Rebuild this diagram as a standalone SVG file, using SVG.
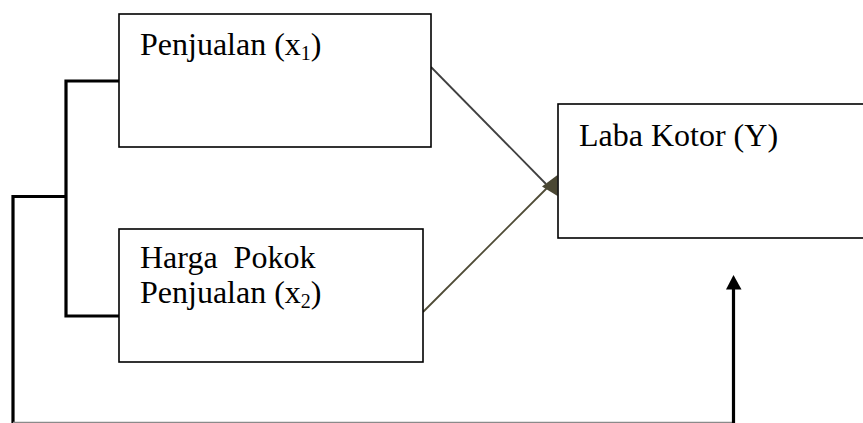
<svg xmlns="http://www.w3.org/2000/svg" width="863" height="423" viewBox="0 0 863 423">
<style>
.box{fill:#fff;stroke:#000;stroke-width:1.6}
.lbl{font-family:"Liberation Serif","Times New Roman",serif;font-size:32px;fill:#000}
.sub{font-size:20px}
.thick{fill:none;stroke:#000;stroke-width:3.2}
</style>
<rect width="863" height="423" fill="#fff"/>
<g id="connectors">
<polyline class="thick" points="119,81 66,81 66,316 119,316"/>
<polyline class="thick" points="66,196.5 13,196.5 13,423"/>
<line x1="13" y1="422.3" x2="735" y2="422.3" stroke="#8a8a8a" stroke-width="1.2"/>
<line x1="733.5" y1="423" x2="733.5" y2="288" stroke="#000" stroke-width="3.2"/>
<polygon points="733.5,275 726,289.5 741.5,289.5" fill="#000"/>
<line x1="431" y1="67" x2="546" y2="184" stroke="#404040" stroke-width="1.8"/>
<line x1="423" y1="312" x2="548" y2="187" stroke="#4e4a35" stroke-width="1.8"/>
<polygon points="557.5,175 542,186.5 557.5,196" fill="#4a4733"/>
</g>
<g id="node-penjualan">
<rect class="box" x="119" y="14" width="312" height="133"/>
<text class="lbl" x="140" y="55">Penjualan (x<tspan class="sub" dy="5">1</tspan><tspan dy="-5">)</tspan></text>
</g>
<g id="node-hpp">
<rect class="box" x="119" y="229" width="304" height="133"/>
<text class="lbl" x="140" y="267.5" xml:space="preserve">Harga  Pokok</text>
<text class="lbl" x="140" y="303">Penjualan (x<tspan class="sub" dy="5">2</tspan><tspan dy="-5">)</tspan></text>
</g>
<g id="node-laba">
<rect class="box" x="558" y="104" width="320" height="134"/>
<text class="lbl" x="579" y="146">Laba Kotor (Y)</text>
</g>
</svg>
